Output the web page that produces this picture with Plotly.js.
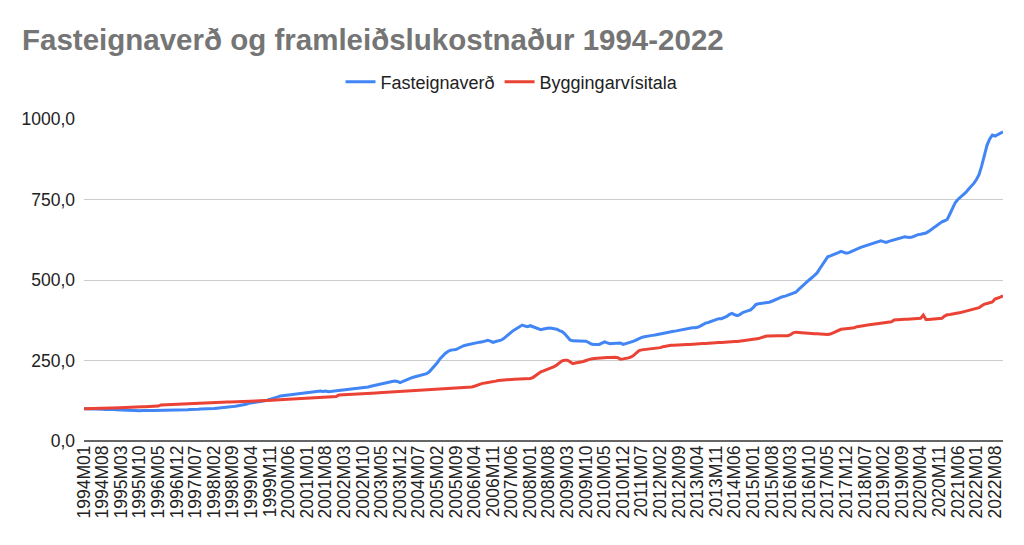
<!DOCTYPE html>
<html>
<head>
<meta charset="utf-8">
<script src="https://cdn.plot.ly/plotly-3.0.1.min.js"></script>
<style>html,body{margin:0;padding:0;background:#fff;}#chart{width:1024px;height:545px;}</style>
</head>
<body>
<div id="chart"></div>
<script>
const startYear = 1994;
const monthCount = 347; // 1994M01 .. 2022M11
const tickStep = 7;

const fasteignaverd = [
  100, 100.5, 100, 99.5, 99, 99.5, 99, 98.5, 98, 98.5, 98, 97.5,
  97, 96.5, 96, 95, 95.5, 95, 94.5, 95, 94.5, 94, 94.5, 94,
  94, 94.5, 95, 95, 95.5, 96, 96.5, 97, 96.5, 96, 96.5, 96,
  96, 97, 96.5, 97, 98, 97.5, 98, 98.5, 99, 99, 99.5, 100,
  100, 101, 102, 102.5, 103, 104, 105, 106, 107, 108, 109, 110,
  112, 114, 117, 118, 119, 121, 122, 124, 125, 127, 129, 131,
  134, 137, 140, 141, 142, 143, 144, 145, 146, 147, 148, 150,
  151, 152, 154, 153, 156, 155, 154, 155, 153, 154, 153, 154,
  155, 156, 157, 158, 160, 161, 162, 163, 164, 165, 166, 168,
  170, 172, 174, 176, 178, 181, 182, 183, 185, 186, 185, 181,
  185, 189, 192, 195, 198, 200, 202, 203, 205, 209, 215, 224,
  232, 243, 255, 264, 272, 278, 282, 283, 284, 288, 293, 296,
  298, 300, 302, 305, 306, 307, 308, 310, 313, 310, 306, 309,
  310, 313, 318, 326, 333, 339, 345, 350, 355, 360, 357, 355,
  358, 355, 352, 348, 346, 348, 350, 351, 350, 349, 347, 343,
  340, 333, 322, 314, 311, 311, 312, 312, 311, 310, 306, 301,
  300, 299, 300, 304, 308, 305, 302, 303, 304, 305, 304, 300,
  302, 305, 308, 310, 314, 319, 322, 324, 326, 328, 328, 329,
  331, 333, 335, 336, 338, 340, 341, 342, 344, 346, 348, 350,
  351, 352, 352, 353, 357, 362, 366, 368, 371, 374, 377, 380,
  380, 383, 387, 393, 396, 392, 389, 393, 399, 402, 404, 407,
  415, 424, 426, 427, 428, 430, 431, 434, 438, 442, 445, 448,
  450, 453, 456, 458, 462, 470, 478, 487, 494, 500, 507, 514,
  522, 535, 548, 561, 572, 575, 578, 580, 585, 589, 586, 583,
  585, 589, 594, 597, 600, 603, 606, 609, 612, 615, 618, 621,
  622, 619, 617, 620, 622, 624, 627, 628, 630, 634, 633, 632,
  634, 638, 641, 642, 643, 646, 651, 657, 663, 670, 676, 681,
  684, 688, 705, 725, 740, 750, 757, 765, 772, 782, 790, 800,
  812, 828, 855, 890, 919, 938, 950, 947, 952, 957, 960
];

const byggingarvisitala = [
  100, 100, 100.3, 100.5, 100.8, 101, 101.2, 101.5, 101.8, 102, 102.3, 102.5,
  103, 103.3, 103.6, 104, 104.3, 104.6, 105, 105.2, 105.5, 105.8, 106, 106.3,
  106.8, 107.2, 107.6, 108, 108.5, 112, 112.4, 112.8, 113, 113.3, 113.6, 114,
  114.3, 114.6, 115, 115.3, 115.7, 118, 118.3, 118.6, 119, 119.2, 119.4, 119.6,
  119.8, 120, 120.2, 120.4, 120.6, 120.8, 121, 121.2, 121.4, 121.6, 121.8, 122,
  122.2, 122.4, 122.6, 123, 123.4, 123.8, 124.2, 124.5, 125, 125.5, 126, 126.5,
  127, 127.5, 128, 128.5, 129, 129.5, 130, 130.5, 131, 131.5, 132, 132.5,
  133, 133.5, 134, 134.5, 135, 135.5, 136, 136.5, 137, 137.5, 138, 138.5,
  143, 143.3, 143.6, 144, 144.3, 144.6, 145, 145.2, 145.4, 145.6, 145.8, 146,
  148, 148.5, 149, 149.5, 150, 150.5, 151, 151.5, 152, 152.5, 153, 153.5,
  154, 154.5, 155, 155.5, 156, 157, 158, 158.5, 159, 159.5, 160, 160.5,
  161, 161.5, 162, 162, 162.5, 163, 163, 163.5, 164, 164.5, 165, 165.5,
  166, 167, 168, 170, 173, 177, 179, 180, 181, 182, 184, 186,
  188, 189, 189.5, 190, 190.5, 191, 191.5, 192, 192.5, 193, 193.5, 194,
  194, 197, 203, 210, 215, 218, 221, 224, 227, 231, 236, 243,
  249, 251, 251, 246, 240, 242, 243, 245, 247, 250, 253, 255,
  256, 257, 257, 258, 258, 259, 259, 260, 260, 259, 254, 255,
  256, 258, 261, 266, 274, 281, 283, 284, 285, 286, 287, 287,
  288, 290, 293, 295, 296, 297, 297, 298, 298, 299, 299, 300,
  300, 301, 301, 302, 302, 303, 303, 304, 304, 305, 305, 306,
  306, 307, 307, 308, 308, 309, 309, 310, 310, 311, 312, 313,
  315, 316, 318, 321, 324, 326, 326, 327, 327, 327, 327, 327,
  327, 327, 330, 336, 338, 337, 336, 335, 335, 334, 334, 333,
  333, 332, 332, 331, 331, 332, 336, 339, 344, 347, 348, 349,
  350, 350, 352, 355, 357, 358, 359, 360, 361, 362, 363, 364,
  365, 365, 366, 367, 370, 376, 377, 377, 378, 378, 378, 379,
  379, 379, 380, 381, 391, 377, 377, 378, 378, 379, 380, 381,
  388, 392, 393, 394, 395, 397, 399, 401, 403, 405, 407, 409,
  411, 414, 420, 425, 427, 430, 432, 441, 443, 447, 451
];

const categories = [];
for (let i = 0; i < monthCount; i++) {
  const y = startYear + Math.floor(i / 12);
  const m = (i % 12) + 1;
  categories.push(y + 'M' + (m < 10 ? '0' + m : m));
}
const tickLabels = categories.filter((c, i) => i % tickStep === 0);

const traces = [
  {x: categories, y: fasteignaverd, type: 'scatter', mode: 'lines', name: 'Fasteignaverð',
   line: {color: '#4285F4', width: 3}},
  {x: categories, y: byggingarvisitala, type: 'scatter', mode: 'lines', name: 'Byggingarvísitala',
   line: {color: '#EA4335', width: 3}}
];

const layout = {
  width: 1024, height: 545,
  margin: {l: 84, r: 21, t: 119, b: 104},
  paper_bgcolor: '#fff', plot_bgcolor: '#fff',
  separators: ',.',
  font: {family: 'Arial, "Liberation Sans", sans-serif', color: '#222'},
  title: {text: 'Fasteignaverð og framleiðslukostnaður 1994-2022',
    font: {size: 29.5, color: '#757575', weight: 700, family: 'Arial, "Liberation Sans", sans-serif'},
    x: 22/1024, xref: 'container', xanchor: 'left', y: 1 - 40/545, yref: 'container', yanchor: 'middle'},
  showlegend: true,
  legend: {orientation: 'h', x: 0.5, xref: 'container', xanchor: 'center',
    y: 1 - 82/545, yref: 'container', yanchor: 'middle', font: {size: 18, color: '#222'},
    itemwidth: 30, traceorder: 'normal'},
  xaxis: {type: 'category', range: [0, monthCount - 1], tickmode: 'array',
    tickvals: tickLabels, ticktext: tickLabels, tickangle: -90, ticks: '',
    showgrid: false, showline: false, zeroline: false, tickfont: {size: 17.5, color: '#222'}, automargin: false},
  yaxis: {range: [0, 1000], tickvals: [0, 250, 500, 750, 1000], tickformat: '.1f',
    showgrid: true, gridcolor: '#cccccc', gridwidth: 1, zeroline: true, zerolinecolor: '#666666', zerolinewidth: 2,
    showline: false, ticks: '', tickfont: {size: 17.5, color: '#222'}, automargin: false, ticklabelstandoff: 8}
};

Plotly.newPlot('chart', traces, layout, {displayModeBar: false, staticPlot: true});
</script>
</body>
</html>
